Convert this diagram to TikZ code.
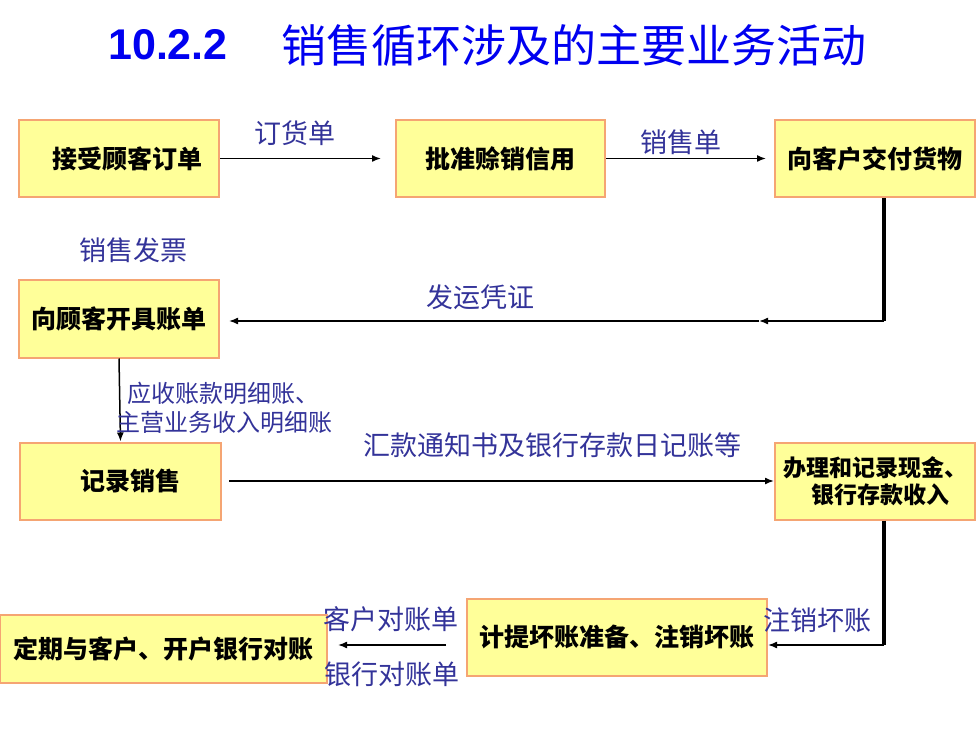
\documentclass[tikz,border=0pt]{standalone}
\usepackage{fontspec}
\setmainfont{Liberation Sans}
\newfontfamily\cjk{Noto Sans CJK SC}
\usetikzlibrary{arrows.meta}

\definecolor{boxfill}{RGB}{255,255,153}
\definecolor{boxline}{RGB}{245,165,115}
\definecolor{labelblue}{RGB}{51,51,153}
\definecolor{titleblue}{RGB}{0,0,240}

\tikzset{
    box/.style={draw=boxline, fill=boxfill, line width=2pt, minimum height=77pt,
        inner sep=0pt, font=\cjk\bfseries\fontsize{25}{29}\selectfont},
    tag/.style={text=labelblue, inner sep=0pt, font=\cjk\fontsize{27}{30}\selectfont},
    flow/.style={line width=1.5pt, -{Latex[length=9pt,width=7pt]}},
    trunk/.style={line width=3.5pt}
}

\begin{document}
\begin{tikzpicture}[x=1pt,y=-1pt]
    \useasboundingbox (0,0) rectangle (980,735);

    % title
    \node[text=titleblue, font=\bfseries\fontsize{43}{46}\selectfont] (titlenum) at (168,45) {10.2.2};
    \node[text=titleblue, font=\cjk\fontsize{45}{50}\selectfont] (titletext) at (574,45) {销售循环涉及的主要业务活动};

    % process boxes
    \node[box, minimum width=200pt] (order) at (119,158.5) {\hspace*{16pt}接受顾客订单};
    \node[box, minimum width=209pt] (credit) at (500.5,158.5) {批准赊销信用};
    \node[box, minimum width=200pt] (ship) at (875,158.5) {向客户交付货物};
    \node[box, minimum width=200pt] (bill) at (119,319) {向顾客开具账单};
    \node[box, minimum width=201pt] (record) at (120.5,481) {\hspace*{20pt}记录销售};
    \node[box, minimum width=200pt, align=center, font=\cjk\bfseries\fontsize{23}{27}\selectfont] (cash) at (875,481)
        {办理和记录现金、\\\hspace*{10pt}银行存款收入};
    \node[box, minimum width=300pt] (baddebt) at (617,637) {计提坏账准备、注销坏账};
    \node[box, minimum width=327pt, minimum height=68pt] (recon) at (163.5,649) {定期与客户、开户银行对账};

    % connectors
    \coordinate (turnA) at (884,321);
    \coordinate (midA) at (759,321);
    \coordinate (turnB) at (884,645);
    \draw[flow] (order.east) -- ([xshift=-14pt]credit.west);
    \draw[flow] (credit.east) -- ([xshift=-8pt]ship.west);
    \draw[trunk] (ship.south -| turnA) -- (turnA);
    \draw[flow] (turnA) -- (midA);
    \draw[flow] (midA) -- ([xshift=9pt]bill.east |- turnA);
    \draw[flow] (bill.south) -- (record.north);
    \draw[flow] ([xshift=7pt]record.east) -- (cash.west);
    \draw[trunk] (cash.south -| turnB) -- (turnB);
    \draw[flow] (turnB) -- (baddebt.east |- turnB);
    \draw[flow] ([xshift=-20pt]baddebt.west |- turnB) -- ([xshift=10pt]recon.east |- turnB);

    % document labels
    \node[tag] (lorder) at (295,133) {订货单};
    \node[tag] (lsale) at (681,142) {销售单};
    \node[tag] (linvoice) at (133,250) {销售发票};
    \node[tag] (lship) at (480,297) {发运凭证};
    \node[tag, font=\cjk\fontsize{24}{29}\selectfont, align=left, anchor=west] (lledger) at (116,407.5)
        {\hspace*{11pt}应收账款明细账、\\主营业务收入明细账};
    \node[tag] (lremit) at (552,445) {汇款通知书及银行存款日记账等};
    \node[tag] (lwrite) at (817,620) {注销坏账};
    \node[tag] (lcust) at (391,619) {客户对账单};
    \node[tag] (lbank) at (392,674) {银行对账单};
\end{tikzpicture}
\end{document}
